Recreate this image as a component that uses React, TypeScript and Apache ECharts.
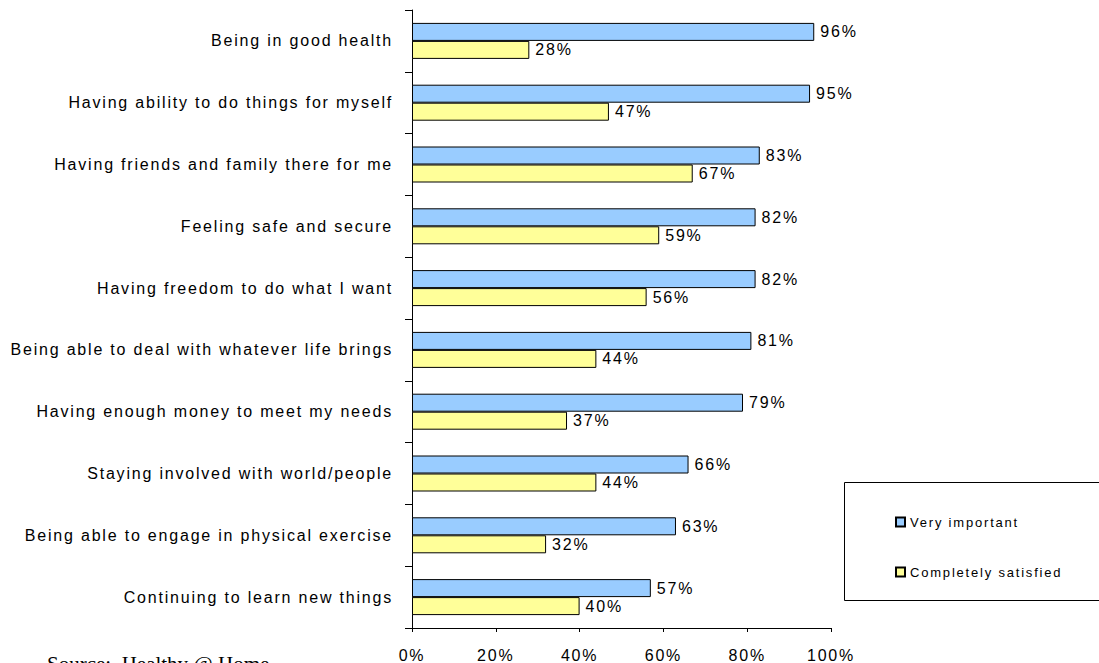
import React, { useEffect, useRef } from 'react';
import * as echarts from 'echarts';

const categories = [
  'Being in good health',
  'Having ability to do things for myself',
  'Having friends and family there for me',
  'Feeling safe and secure',
  'Having freedom to do what I want',
  'Being able to deal with whatever life brings',
  'Having enough money to meet my needs',
  'Staying involved with world/people',
  'Being able to engage in physical exercise',
  'Continuing to learn new things',
];
const veryImportant = [96, 95, 83, 82, 82, 81, 79, 66, 63, 57];
const completelySatisfied = [28, 47, 67, 59, 56, 44, 37, 44, 32, 40];
const seriesNames = ['Very important', 'Completely satisfied'];
const sourceText = 'Source:  Healthy @ Home';

const FONT = "'Liberation Sans', Arial, sans-serif";

export default function App() {
  const ref = useRef<HTMLDivElement>(null);
  useEffect(() => {
    if (!ref.current) return;
    const chart = echarts.init(ref.current, null, { renderer: 'svg' });
    const labelStyle = { fontFamily: FONT, fontSize: 16, color: '#000' };
    chart.setOption({
      animation: false,
      backgroundColor: '#fff',
      grid: { left: 412, top: 10, right: 268, bottom: 35, containLabel: false },
      xAxis: {
        type: 'value',
        min: 0,
        max: 100,
        interval: 20,
        splitLine: { show: false },
        axisLine: { show: true, lineStyle: { color: '#000', width: 1 } },
        axisTick: { show: true, length: 4, lineStyle: { color: '#000' } },
        axisLabel: { ...labelStyle, margin: 19, formatter: '{value}%' },
      },
      yAxis: {
        type: 'category',
        inverse: true,
        data: categories,
        axisLine: { show: true, lineStyle: { color: '#000', width: 1 } },
        axisTick: { show: true, length: 7, lineStyle: { color: '#000' } },
        axisLabel: { ...labelStyle, margin: 19 },
      },
      legend: {
        orient: 'vertical',
        left: 895,
        top: 515,
        padding: 0,
        itemGap: 36,
        itemWidth: 9,
        itemHeight: 9,
        icon: 'rect',
        data: seriesNames,
        textStyle: { fontFamily: FONT, fontSize: 13, color: '#000', lineHeight: 14 },
      },
      graphic: [
        {
          type: 'rect',
          shape: { x: 844.5, y: 482.5, width: 270, height: 118 },
          style: { fill: '#fff', stroke: '#000', lineWidth: 1 },
        },
        {
          type: 'text',
          x: 47,
          y: 664,
          style: {
            text: sourceText,
            font: '21px "Liberation Serif", "Times New Roman", serif',
            fill: '#000',
            verticalAlign: 'middle',
          },
        },
      ],
      series: [
        {
          name: seriesNames[0],
          type: 'bar',
          data: veryImportant,
          barWidth: 18,
          barGap: '0%',
          itemStyle: { color: '#99CCFF', borderColor: '#000', borderWidth: 1 },
          label: { show: true, position: 'right', distance: 6, formatter: '{c}%', ...labelStyle },
        },
        {
          name: seriesNames[1],
          type: 'bar',
          data: completelySatisfied,
          barWidth: 18,
          barGap: '0%',
          itemStyle: { color: '#FFFF99', borderColor: '#000', borderWidth: 1 },
          label: { show: true, position: 'right', distance: 6, formatter: '{c}%', ...labelStyle },
        },
      ],
    });
    return () => chart.dispose();
  }, []);
  return (
    <>
      <style>{`.chart-root svg text { letter-spacing: 1.8px; } .chart-root svg text[style*="Serif"] { letter-spacing: 0; }`}</style>
      <div
        ref={ref}
        className="chart-root"
        style={{ position: 'fixed', left: 0, top: 0, width: 1099, height: 663, background: '#fff' }}
      />
    </>
  );
}
